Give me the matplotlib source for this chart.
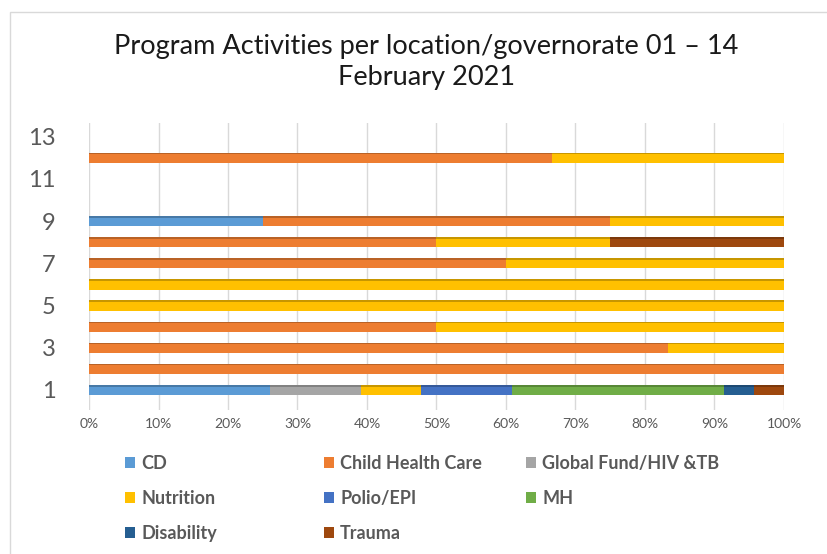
import numpy as np
import matplotlib
matplotlib.use("Agg")
import matplotlib.pyplot as plt
from matplotlib.patches import Rectangle, Patch

plt.rcParams['font.family'] = ['Lato', 'DejaVu Sans']

# activity counts per location (1..13)
locations = np.arange(1, 14)
cd         = [6, 0, 0, 0, 0, 0, 0, 0, 1, 0, 0, 0, 0]
chc        = [0, 1, 5, 1, 0, 0, 3, 2, 2, 0, 0, 2, 0]
gf         = [3, 0, 0, 0, 0, 0, 0, 0, 0, 0, 0, 0, 0]
nutrition  = [2, 0, 1, 1, 1, 1, 2, 1, 1, 0, 0, 1, 0]
polio      = [3, 0, 0, 0, 0, 0, 0, 0, 0, 0, 0, 0, 0]
mh         = [7, 0, 0, 0, 0, 0, 0, 0, 0, 0, 0, 0, 0]
disability = [1, 0, 0, 0, 0, 0, 0, 0, 0, 0, 0, 0, 0]
trauma     = [1, 0, 0, 0, 0, 0, 0, 1, 0, 0, 0, 0, 0]

series_names = ["CD", "Child Health Care", "Global Fund/HIV &TB", "Nutrition",
                "Polio/EPI", "MH", "Disability", "Trauma"]
series_vals = [cd, chc, gf, nutrition, polio, mh, disability, trauma]
colors = ["#5B9BD5", "#ED7D31", "#A5A5A5", "#FFC000",
          "#4472C4", "#70AD47", "#255E91", "#9E480E"]
x_ticks = np.arange(0, 101, 10)

data = np.array(series_vals, dtype=float)
totals = data.sum(axis=0)
pct = np.divide(data, totals, out=np.zeros_like(data), where=totals > 0) * 100

fig = plt.figure(figsize=(8.28, 5.54), dpi=100)
ax = fig.add_axes([89/828, 1-410/554, (784-89)/828, (410-123)/554])

bar_h = 0.48
left = np.zeros(len(locations))
for vals, col in zip(pct, colors):
    ax.barh(locations, vals, left=left, height=bar_h, color=col, zorder=3)
    # darker top face, fake 3d look
    dark = tuple(c*0.78 for c in matplotlib.colors.to_rgb(col))
    ax.barh(locations + bar_h/2 - 0.04, vals, left=left, height=0.08,
            color=dark, zorder=4)
    left += vals

ax.set_xlim(0, 100)
ax.set_ylim(0.05, 13.65)
ax.set_xticks(x_ticks)
ax.set_xticklabels([f"{t}%" for t in x_ticks], fontsize=10, color="#595959")
ax.set_yticks(locations[::2])
ax.set_yticklabels([str(v) for v in locations[::2]], fontsize=17, color="#595959")
ax.tick_params(axis='both', length=0)
ax.tick_params(axis='x', pad=6)
ax.tick_params(axis='y', pad=24)
ax.grid(axis='x', color="#d9d9d9", lw=1, zorder=0)
for s in ax.spines.values():
    s.set_visible(False)

fig.text(0.515, 1-62/554, "Program Activities per location/governorate 01 \u2013 14\nFebruary 2021",
         ha='center', va='center', fontsize=19.5, color="#1a1a1a", linespacing=1.3)

# chart border
fig.patches.append(Rectangle((10/828, -0.1), 1.0, 1-12/554+0.1,
                             transform=fig.transFigure, fill=False,
                             edgecolor="#d9d9d9", lw=1))

# legend: three columns, filled row-wise like the original
col_x = [125/828, 324/828, 526/828]
for c in range(3):
    idx = list(range(c, len(series_names), 3))
    handles = [Patch(facecolor=colors[i], edgecolor='none') for i in idx]
    labels = [series_names[i] for i in idx]
    fig.legend(handles, labels, loc='upper left', bbox_to_anchor=(col_x[c], 1-455/554),
               frameon=False, handlelength=0.55, handleheight=0.55,
               handletextpad=0.35, labelspacing=1.0, borderpad=0, borderaxespad=0,
               prop={'weight': 'bold', 'size': 13}, labelcolor="#595959")

fig.savefig("out.png", dpi=100)
